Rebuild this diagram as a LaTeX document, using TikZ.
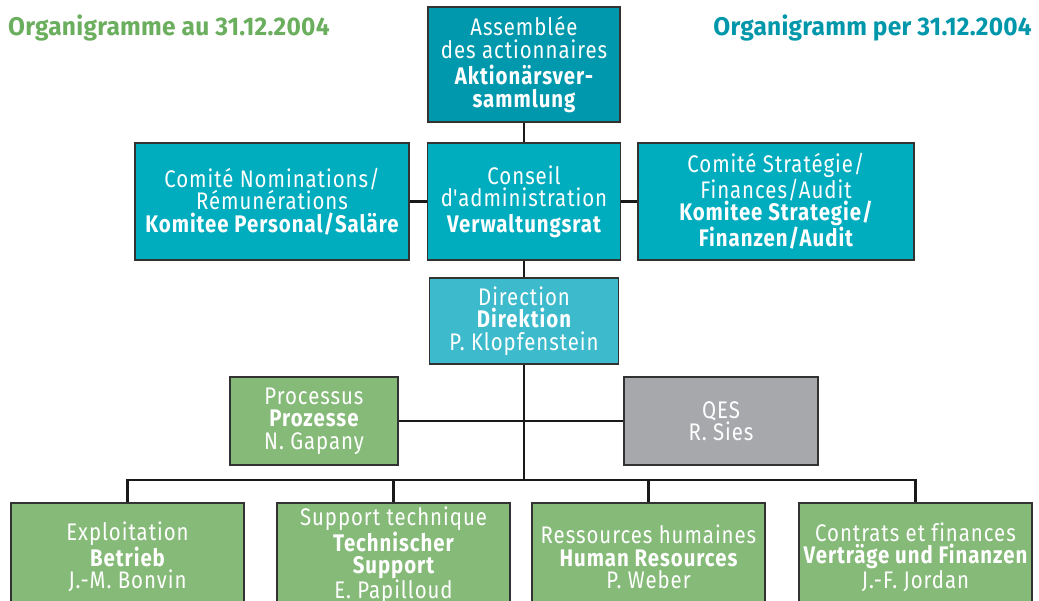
\documentclass[tikz,border=0pt]{standalone}
\usepackage{fontspec}
\setmainfont{Fira Sans}[LetterSpace=4, FakeStretch=0.85, Ligatures=NoCommon]
\newfontfamily\titlefont{Fira Sans}[LetterSpace=1, FakeStretch=0.96]
\definecolor{tealdark}{RGB}{0,152,172}
\definecolor{tealmid}{RGB}{0,173,191}
\definecolor{teallight}{RGB}{61,186,204}
\definecolor{boxgreen}{RGB}{134,186,120}
\definecolor{boxgray}{RGB}{167,168,172}
\definecolor{titlegreen}{RGB}{106,174,94}
\definecolor{titleteal}{RGB}{0,151,170}
\definecolor{edge}{RGB}{50,50,50}
\tikzset{
  orgbox/.style={draw=edge, line width=1.8pt, rectangle, inner sep=0pt, align=center,
    text=white, font=\fontsize{24}{22.5}\selectfont},
  link/.style={draw=black!90, line width=2.2pt},
  titletext/.style={font=\titlefont\bfseries\fontsize{25.5}{28}\selectfont, inner sep=0pt}
}
\begin{document}
\begin{tikzpicture}[x=1pt, y=-1pt]
\clip (0,0) rectangle (1039,601);
\fill[white] (0,0) rectangle (1039,601);

\node[titletext, text=titlegreen, anchor=west] (tl) at (8,28) {Organigramme au 31.12.2004};
\node[titletext, text=titleteal, anchor=east] (tr) at (1032,28) {Organigramm per 31.12.2004};

\node[orgbox, fill=tealdark, minimum width=192pt, minimum height=115pt] (top) at (524,64.5)
  {Assemblée\\des actionnaires\\[4pt]\bfseries Aktionärsver-\\\bfseries sammlung};

\node[orgbox, fill=tealmid, minimum width=193pt, minimum height=117pt] (cons) at (524,201.5)
  {Conseil\\d\textquotesingle administration\\[3pt]\bfseries Verwaltungsrat};
\node[orgbox, fill=tealmid, minimum width=274pt, minimum height=117pt] (nom) at (272,201.5)
  {Comité Nominations/\\Rémunérations\\\bfseries Komitee Personal/Saläre};
\node[orgbox, fill=tealmid, minimum width=276pt, minimum height=117pt] (strat) at (776,201.5)
  {Comité Stratégie/\\Finances/Audit\\\bfseries Komitee Strategie/\\\bfseries Finanzen/Audit};

\node[orgbox, fill=teallight, minimum width=189pt, minimum height=86pt] (dir) at (524,321)
  {Direction\\\bfseries Direktion\\P. Klopfenstein};

\node[orgbox, fill=boxgreen, minimum width=168pt, minimum height=88pt] (proc) at (314,421)
  {Processus\\\bfseries Prozesse\\N. Gapany};
\node[orgbox, fill=boxgray, minimum width=194pt, minimum height=88pt] (qes) at (721,421)
  {QES\\R. Sies};

\node[orgbox, fill=boxgreen, minimum width=233pt, minimum height=108pt] (b1) at (127.5,557)
  {Exploitation\\\bfseries Betrieb\\J.-M. Bonvin};
\node[orgbox, fill=boxgreen, minimum width=233pt, minimum height=104pt,
      font=\fontsize{24}{22}\selectfont] (b2) at (393.5,555)
  {Support technique\\\bfseries Technischer\\\bfseries Support\\E. Papilloud};
\node[orgbox, fill=boxgreen, minimum width=233pt, minimum height=108pt] (b3) at (648.5,557)
  {Ressources humaines\\\bfseries Human Resources\\P. Weber};
\node[orgbox, fill=boxgreen, minimum width=233pt, minimum height=108pt] (b4) at (915.5,557)
  {Contrats et finances\\\bfseries Verträge und Finanzen\\J.-F. Jordan};

\coordinate (bus) at (524,480);

\draw[link] (top.south) -- (cons.north);
\draw[link] (cons.west) -- (nom.east);
\draw[link] (cons.east) -- (strat.west);
\draw[link] (cons.south) -- (dir.north);
\draw[link] (dir.south) -- (bus);
\draw[link] (proc.east) -- (qes.west);
\draw[link] (b1.north) -- (b1.north |- bus) -- (b4.north |- bus) -- (b4.north);
\draw[link] (b2.north) -- (b2.north |- bus);
\draw[link] (b3.north) -- (b3.north |- bus);
\end{tikzpicture}
\end{document}
